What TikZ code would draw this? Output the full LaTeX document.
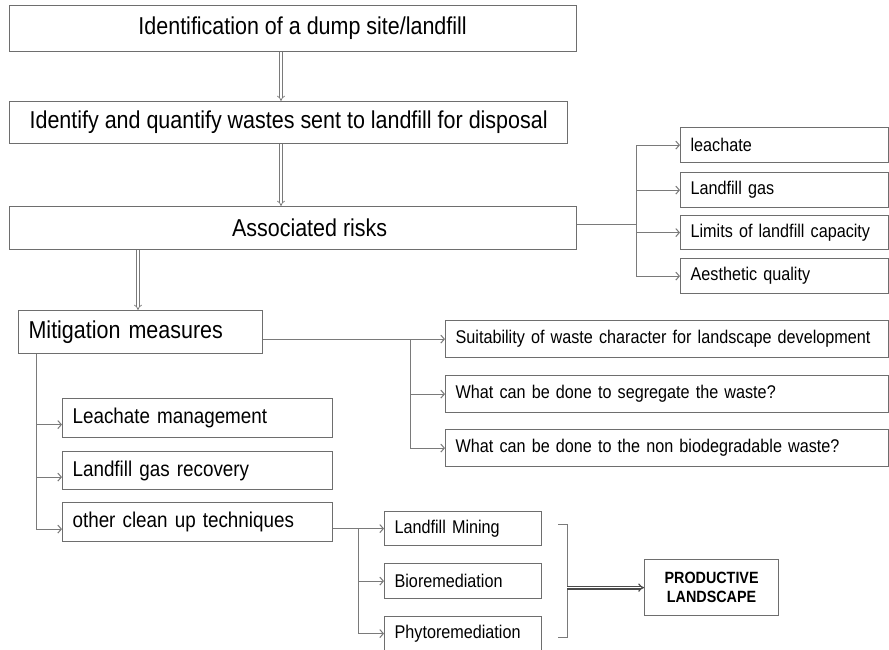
\documentclass[tikz,border=0pt]{standalone}
\usepackage{fontspec}
\setmainfont[FakeStretch=0.88]{Liberation Sans}
\usetikzlibrary{arrows.meta,calc}
\definecolor{boxgray}{HTML}{6E6E6E}
\definecolor{linegray}{HTML}{7A7A7A}
\definecolor{darkline}{HTML}{4A4A4A}
\begin{document}
\begin{tikzpicture}[x=1pt,y=-1pt,
  bx/.style={draw=boxgray, line width=1.2pt, inner xsep=10pt, inner ysep=2pt, anchor=north west, fill=white, text=black},
  cbox/.style={bx, align=center},
  lbox/.style={bx, align=left},
  big/.style={font=\fontsize{24.4pt}{28pt}\selectfont},
  mid/.style={font=\fontsize{21.4pt}{25pt}\selectfont},
  small/.style={font=\fontsize{18.4pt}{22pt}\selectfont},
  conn/.style={draw=linegray, line width=1pt},
  arr/.style={conn, -{Straight Barb[length=3.5pt,width=8pt]}},
  darr/.style={draw=linegray, line width=0.7pt, double=white, double distance=2pt, -{Implies}},
  parr/.style={draw=darkline, line width=1.2pt, double=white, double distance=1.5pt, -{Implies}},
]
\useasboundingbox[fill=white] (0,0) rectangle (889,650);

% main column
\node[cbox, big, minimum width=567pt, minimum height=46pt] (b1) at (9,5) {\hspace*{19pt}Identification of a dump site/landfill};
\node[cbox, big, minimum width=558pt, minimum height=42pt] (b2) at (9,101) {Identify and quantify wastes sent to landfill for disposal};
\node[cbox, big, minimum width=567pt, minimum height=43pt] (b3) at (9,206) {\hspace*{33pt}Associated risks};
\node[lbox, big, text width=224pt, minimum height=43pt] (mit) at (18,310) {\mbox{Mitigation measures}};

% risks
\node[lbox, small, text width=188pt, minimum height=35pt] (r1) at (680,127) {\mbox{leachate}};
\node[lbox, small, text width=188pt, minimum height=35pt] (r2) at (680,172) {\mbox{Landfill gas}};
\node[lbox, small, text width=188pt, minimum height=34pt] (r3) at (680,215) {\mbox{Limits of landfill capacity}};
\node[lbox, small, text width=188pt, minimum height=35pt] (r4) at (680,258) {\mbox{Aesthetic quality}};

% questions
\node[lbox, small, text width=423pt, minimum height=37pt] (s1) at (445,320) {\mbox{Suitability of waste character for landscape development}};
\node[lbox, small, text width=423pt, minimum height=37pt] (s2) at (445,375) {\mbox{What can be done to segregate the waste?}};
\node[lbox, small, text width=423pt, minimum height=37pt] (s3) at (445,429) {\mbox{What can be done to the non biodegradable waste?}};

% mitigation
\node[lbox, mid, text width=250pt, minimum height=39pt] (lm1) at (62,398) {\mbox{Leachate management}};
\node[lbox, mid, text width=250pt, minimum height=38pt] (lm2) at (62,451) {\mbox{Landfill gas recovery}};
\node[lbox, mid, text width=250pt, minimum height=39pt] (lm3) at (62,502) {\mbox{other clean up techniques}};

% techniques
\node[lbox, small, text width=137pt, minimum height=34pt] (m1) at (384,511) {\mbox{Landfill Mining}};
\node[lbox, small, text width=137pt, minimum height=35pt] (m2) at (384,563) {\mbox{Bioremediation}};
\node[lbox, small, text width=137pt, minimum height=34pt] (m3) at (384,616) {\mbox{Phytoremediation}};

\node[cbox, font=\bfseries\fontsize{16.3pt}{18.5pt}\selectfont, minimum width=134pt, minimum height=56pt] (prod) at (644,559) {PRODUCTIVE\\LANDSCAPE};

% double arrows down the main column
\coordinate (ax) at (281,0);
\draw[darr] (ax |- b1.south) -- (ax |- b2.north);
\draw[darr] (ax |- b2.south) -- (ax |- b3.north);
\coordinate (mx) at (138,0);
\draw[darr] (mx |- b3.south) -- (mx |- mit.north);

% risk branches
\coordinate (rj) at (636,0);
\coordinate (re) at ([yshift=4pt]b3.east);
\draw[conn] (re) -- (re -| rj);
\draw[conn] (rj |- r1.west) -- (rj |- r4.west);
\foreach \n in {r1,r2,r3,r4} \draw[arr] (rj |- \n.west) -- (\n.west);

% question branches
\coordinate (sj) at (410,0);
\draw[arr] (mit.east |- s1.west) -- (s1.west);
\draw[conn] (sj |- s1.west) -- (sj |- s3.west);
\foreach \n in {s2,s3} \draw[arr] (sj |- \n.west) -- (\n.west);

% mitigation branches
\coordinate (lx) at (36,0);
\coordinate (l1) at ([yshift=-6.5pt]lm1.west);
\coordinate (l2) at ([yshift=-6.5pt]lm2.west);
\coordinate (l3) at ([yshift=-7pt]lm3.west);
\draw[conn] (lx |- mit.south) -- (lx |- l3);
\foreach \n in {l1,l2,l3} \draw[arr] (lx |- \n) -- (\n);

% technique branches
\coordinate (oj) at (358,0);
\draw[arr] (lm3.east |- m1.west) -- (m1.west);
\draw[conn] (oj |- m1.west) -- (oj |- m3.west);
\foreach \n in {m2,m3} \draw[arr] (oj |- \n.west) -- (\n.west);

% bracket and final arrow
\coordinate (bt) at (558,524);
\coordinate (bb) at (558,637);
\coordinate (bx) at (567,0);
\draw[conn] (bt) -- (bt -| bx) -- (bb -| bx) -- (bb);
\draw[parr] (bx |- prod.west) -- (prod.west);
\end{tikzpicture}
\end{document}
